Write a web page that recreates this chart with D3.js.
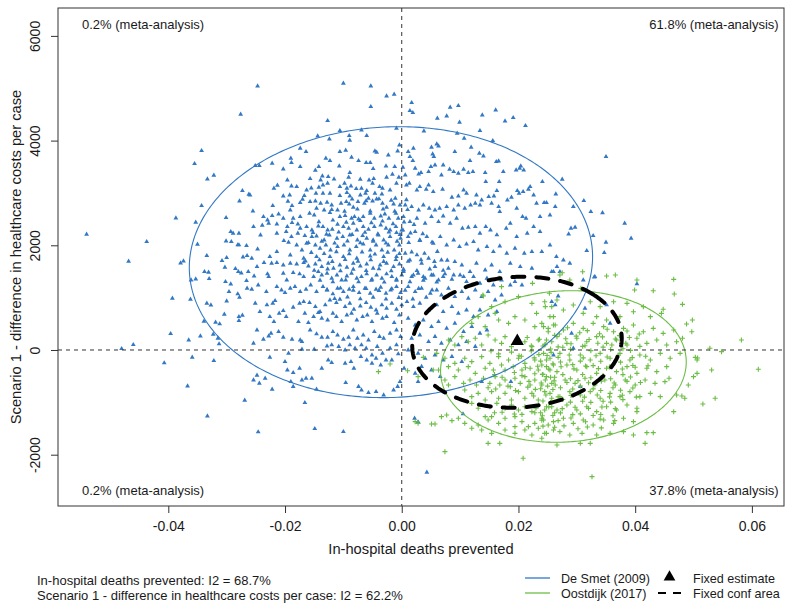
<!DOCTYPE html>
<html>
<head>
<meta charset="utf-8">
<script src="https://cdn.jsdelivr.net/npm/d3@7"></script>
<style>
body { margin: 0; background: #fff; }
text { font-family: "Liberation Sans", Arial, sans-serif; fill: #1a1a1a; }
</style>
</head>
<body>
<div id="chart-area"></div>
<script>
// simulated pairs [in-hospital deaths prevented, difference in costs per case]
var deSmet = [
[-0.0276,4501],[-0.0343,3807],[-0.0355,3559],[-0.0333,3266],[-0.0322,3336],[-0.0343,2757],[-0.0387,2521],[-0.0353,2438],
[-0.0540,2209],[-0.0437,2069],[-0.0468,1693],[-0.0350,2018],[-0.0379,1662],[-0.0374,1700],[-0.0361,1337],[-0.0353,1356],
[-0.0393,987],[-0.0362,968],[-0.0345,267],[-0.0365,191],[-0.0396,312],[-0.0480,25],[-0.0460,102],[-0.0407,-248],
[-0.0359,-140],[-0.0322,-204],[-0.0367,-688],[-0.0333,-1261],[-0.0269,-962],[-0.0315,223],[-0.0323,299],[-0.0313,115],
[-0.0339,547],[-0.0334,891],[-0.0327,859],[-0.0319,529],[-0.0312,497],[-0.0273,3043],[-0.0278,2846],[-0.0262,2973],
[-0.0301,2528],[-0.0301,2082],[-0.0293,2260],[-0.0289,2228],[-0.0279,2228],[-0.0292,2069],[-0.0281,2006],[-0.0279,2006],
[-0.0266,1993],[-0.0334,1802],[-0.0308,1706],[-0.0300,1763],[-0.0272,1776],[-0.0265,1802],[-0.0338,1496],[-0.0331,1483],
[-0.0330,1362],[-0.0303,1579],[-0.0285,1553],[-0.0280,1496],[-0.0275,1471],[-0.0263,1496],[-0.0302,1305],[-0.0293,1260],
[-0.0266,1324],[-0.0296,1114],[-0.0300,936],[-0.0278,1006],[-0.0281,1070],[-0.0265,1178],[-0.0304,681],[-0.0279,636],
[-0.0273,662],[-0.0279,560],
[-0.0247,5042],[-0.0100,5093],[-0.0053,5042],[-0.0026,4851],[-0.0013,4883],[-0.0053,4648],[-0.0127,4380],[-0.0106,4189],
[-0.0144,4087],[-0.0124,4030],[-0.0090,4094],[-0.0089,4005],[-0.0069,4202],[-0.0060,4094],[-0.0009,4234],[-0.0004,3915],
[-0.0007,3801],[-0.0046,3801],[-0.0043,3775],[-0.0023,3724],[-0.0174,3852],[-0.0164,3788],[-0.0106,3788],[-0.0096,3814],
[-0.0086,3680],[-0.0130,3661],[-0.0123,3616],[-0.0074,3616],[-0.0061,3578],[-0.0054,3578],[-0.0190,3661],[-0.0189,3578],
[-0.0222,3565],[-0.0251,3521],[-0.0244,3521],[-0.0203,3457],[-0.0174,3502],[-0.0148,3432],[-0.0142,3502],[-0.0107,3514],
[-0.0089,3387],[-0.0049,3463],[-0.0027,3514],[-0.0012,3502],[-0.0136,3323],[-0.0139,3247],[-0.0126,3311],[-0.0116,3266],
[-0.0091,3298],[-0.0071,3260],[-0.0056,3247],[-0.0048,3272],[-0.0026,3298],[-0.0016,3355],[-0.0005,3298],[-0.0196,3247],
[-0.0189,3132],[-0.0219,3088],[-0.0213,3145],[-0.0180,3120],[-0.0157,3272],[-0.0155,3094],[-0.0142,3107],[-0.0135,3151],
[-0.0127,3183],[-0.0106,3120],[-0.0098,3183],[-0.0094,3088],[-0.0087,3132],[-0.0078,3081],[-0.0069,3088],[-0.0060,3043],
[-0.0050,3183],[-0.0038,3120],[-0.0033,3088],[-0.0009,3183],[-0.0203,2941],[-0.0192,2960],[-0.0167,2948],[-0.0163,3056],
[-0.0147,2992],[-0.0135,2992],[-0.0123,2992],[-0.0106,2948],[-0.0094,3005],[-0.0089,2941],[-0.0071,2960],[-0.0062,2992],
[-0.0046,2992],[-0.0043,2884],[-0.0034,2980],[-0.0020,3056],[-0.0011,2897],[-0.0260,2960],[-0.0221,2757],[-0.0195,2839],
[-0.0188,2757],[-0.0174,2814],[-0.0170,2878],[-0.0157,2833],[-0.0148,2846],[-0.0139,2801],[-0.0128,2820],[-0.0120,2769],
[-0.0104,2801],[-0.0095,2833],[-0.0090,2789],[-0.0083,2725],[-0.0075,2833],[-0.0064,2801],[-0.0057,2897],[-0.0050,2846],
[-0.0033,2801],[-0.0026,2725],[-0.0014,2789],[-0.0003,2769],[-0.0255,2655],[-0.0237,2547],[-0.0230,2483],[-0.0222,2566],
[-0.0211,2598],[-0.0203,2515],[-0.0191,2674],[-0.0186,2515],[-0.0174,2547],[-0.0158,2610],[-0.0150,2578],[-0.0146,2706],
[-0.0133,2674],[-0.0123,2623],[-0.0110,2674],[-0.0106,2547],[-0.0097,2566],[-0.0086,2515],[-0.0081,2547],[-0.0074,2502],
[-0.0066,2547],[-0.0054,2610],[-0.0047,2515],[-0.0036,2559],[-0.0029,2598],[-0.0022,2515],[-0.0010,2610],[-0.0006,2515],
[-0.0254,2356],[-0.0239,2381],[-0.0228,2419],[-0.0214,2407],[-0.0196,2356],[-0.0188,2432],[-0.0178,2407],[-0.0174,2324],
[-0.0163,2356],[-0.0154,2292],[-0.0143,2368],[-0.0135,2356],[-0.0127,2292],[-0.0119,2305],[-0.0110,2400],[-0.0100,2356],
[-0.0091,2324],[-0.0083,2419],[-0.0077,2292],[-0.0066,2356],[-0.0057,2305],[-0.0047,2356],[-0.0036,2387],[-0.0027,2324],
[-0.0020,2292],[-0.0010,2356],[0.0000,2292],[-0.0242,2196],[-0.0214,2228],[-0.0198,2260],[-0.0189,2165],[-0.0178,2228],
[-0.0166,2184],[-0.0154,2165],[-0.0146,2177],[-0.0133,2101],[-0.0124,2196],[-0.0111,2133],[-0.0101,2165],[-0.0089,2196],
[-0.0076,2101],[-0.0067,2184],[-0.0060,2133],[-0.0049,2101],[-0.0040,2196],[-0.0031,2101],[-0.0020,2165],[-0.0009,2241],
[-0.0002,2133],[-0.0247,1929],[-0.0214,1878],[-0.0202,2088],[-0.0194,2056],[-0.0180,2005],[-0.0171,1910],[-0.0163,2037],
[-0.0148,2005],[-0.0140,1942],[-0.0130,2005],[-0.0122,1910],[-0.0110,1974],[-0.0099,2005],[-0.0089,1910],[-0.0078,1974],
[-0.0066,2024],[-0.0054,1910],[-0.0044,2005],[-0.0034,1910],[-0.0023,2005],[-0.0013,1910],[-0.0004,2005],[-0.0257,1751],
[-0.0226,1782],[-0.0191,1814],[-0.0168,1751],[-0.0146,1782],[-0.0123,1782],[-0.0100,1782],[-0.0077,1751],[-0.0054,1795],
[-0.0031,1782],[-0.0009,1782],
[-0.0248,1592],[-0.0236,1668],[-0.0223,1655],[-0.0214,1668],[-0.0203,1623],[-0.0191,1655],[-0.0180,1643],[-0.0168,1668],
[-0.0160,1604],[-0.0148,1643],[-0.0137,1592],[-0.0126,1655],[-0.0117,1560],[-0.0106,1623],[-0.0094,1579],[-0.0083,1655],
[-0.0071,1604],[-0.0060,1643],[-0.0049,1560],[-0.0037,1623],[-0.0026,1655],[-0.0014,1592],[-0.0004,1643],[-0.0253,1413],
[-0.0230,1452],[-0.0228,1401],[-0.0203,1464],[-0.0197,1337],[-0.0186,1477],[-0.0175,1452],[-0.0168,1401],[-0.0151,1401],
[-0.0143,1496],[-0.0137,1432],[-0.0128,1464],[-0.0120,1369],[-0.0111,1432],[-0.0103,1337],[-0.0094,1413],[-0.0086,1464],
[-0.0077,1369],[-0.0069,1401],[-0.0060,1452],[-0.0051,1350],[-0.0043,1432],[-0.0034,1369],[-0.0026,1452],[-0.0017,1401],
[-0.0009,1350],[0.0000,1432],[-0.0257,1159],[-0.0246,1241],[-0.0232,1114],[-0.0214,1210],[-0.0206,1146],[-0.0200,1095],
[-0.0191,1178],[-0.0183,1210],[-0.0174,1114],[-0.0164,1159],[-0.0156,1241],[-0.0146,1114],[-0.0135,1210],[-0.0128,1146],
[-0.0118,1070],[-0.0110,1178],[-0.0100,1114],[-0.0090,1159],[-0.0083,1210],[-0.0073,1095],[-0.0063,1178],[-0.0054,1082],
[-0.0044,1159],[-0.0036,1197],[-0.0027,1082],[-0.0019,1146],[-0.0009,1210],[-0.0002,1095],[-0.0251,891],[-0.0231,860],
[-0.0221,891],[-0.0217,942],[-0.0203,751],[-0.0186,815],[-0.0175,891],[-0.0168,923],[-0.0158,904],[-0.0148,828],
[-0.0140,732],[-0.0131,860],[-0.0123,955],[-0.0112,904],[-0.0106,968],[-0.0097,828],[-0.0089,891],[-0.0082,777],
[-0.0071,840],[-0.0061,904],[-0.0053,815],[-0.0044,764],[-0.0034,860],[-0.0026,796],[-0.0017,891],[-0.0009,777],
[0.0000,860],[-0.0243,732],[-0.0226,637],[-0.0219,541],[-0.0210,700],[-0.0198,637],[-0.0177,541],[-0.0166,700],
[-0.0160,522],[-0.0151,637],[-0.0143,713],[-0.0137,605],[-0.0127,573],[-0.0118,700],[-0.0112,637],[-0.0103,541],
[-0.0094,668],[-0.0086,700],[-0.0077,573],[-0.0067,637],[-0.0059,668],[-0.0051,541],[-0.0042,700],[-0.0033,605],
[-0.0026,637],[-0.0013,522],[-0.0004,668],[-0.0248,382],[-0.0237,204],[-0.0228,267],[-0.0224,318],[-0.0211,350],
[-0.0203,242],[-0.0188,204],[-0.0174,191],[-0.0171,159],[-0.0157,382],[-0.0146,306],[-0.0137,242],[-0.0127,242],
[-0.0118,350],[-0.0110,286],[-0.0100,204],[-0.0091,242],[-0.0083,382],[-0.0076,223],[-0.0066,286],[-0.0057,191],
[-0.0047,350],[-0.0038,255],[-0.0031,223],[-0.0020,318],[-0.0009,382],[-0.0002,255],[-0.0254,127],[-0.0226,-140],
[-0.0194,-64],[-0.0171,13],[-0.0150,13],[-0.0128,76],[-0.0120,96],[-0.0108,64],[-0.0097,0],[-0.0089,96],
[-0.0080,32],[-0.0069,96],[-0.0061,32],[-0.0051,-96],[-0.0042,64],[-0.0033,-64],[-0.0020,32],[-0.0009,96],
[-0.0248,-484],[-0.0234,-541],[-0.0200,-223],[-0.0196,-382],[-0.0186,-433],[-0.0175,-350],[-0.0164,-541],[-0.0154,-541],
[-0.0137,-350],[-0.0126,-191],[-0.0120,-242],[-0.0097,-255],[-0.0087,-223],[-0.0082,-350],[-0.0070,-127],[-0.0060,-191],
[-0.0051,-255],[-0.0044,-159],[-0.0036,-287],[-0.0027,-191],[-0.0017,-191],[-0.0006,-76],[-0.0254,-573],[-0.0244,-637],
[-0.0222,-751],[-0.0190,-605],[-0.0186,-700],[-0.0171,-573],[-0.0146,-751],[-0.0096,-624],[-0.0074,-700],[-0.0069,-764],
[-0.0057,-815],[-0.0044,-796],[-0.0031,-860],[-0.0014,-764],[-0.0007,-700],[-0.0003,-605],[0.0004,-350],
[-0.0246,-1566],[-0.0149,-1503],[-0.0100,-1560],[-0.0166,-1006],
[0.0017,4724],[0.0014,4571],[0.0019,4533],[0.0083,4635],[0.0097,4667],[0.0061,4425],[0.0077,4469],[0.0099,4348],
[0.0138,4488],[0.0161,4584],[0.0177,4374],[0.0191,4438],[0.0212,4285],[0.0038,4183],[0.0095,4138],[0.0107,4043],
[0.0134,4189],[0.0156,3998],[0.0011,3788],[0.0020,3852],[0.0051,3871],[0.0060,3935],[0.0063,3896],[0.0014,3693],
[0.0019,3616],[0.0053,3744],[0.0055,3693],[0.0071,3534],[0.0091,3788],[0.0117,3616],[0.0119,3871],[0.0133,3756],
[0.0140,3705],[0.0162,3597],[0.0166,3610],[0.0002,3489],[0.0006,3343],[0.0023,3470],[0.0029,3362],[0.0033,3387],
[0.0046,3406],[0.0050,3502],[0.0057,3534],[0.0068,3343],[0.0082,3451],[0.0089,3406],[0.0097,3374],[0.0106,3451],
[0.0114,3387],[0.0122,3406],[0.0143,3387],[0.0144,3215],[0.0167,3215],[0.0174,3406],[0.0196,3438],[0.0202,3470],
[0.0209,3438],[0.0204,3515],[0.0241,3215],[0.0275,3260],[0.0008,3152],[0.0013,3183],[0.0026,3056],[0.0031,3120],
[0.0042,3069],[0.0046,3152],[0.0054,3024],[0.0070,3069],[0.0086,2916],[0.0097,2941],[0.0106,3056],[0.0111,2992],
[0.0128,2960],[0.0137,2865],[0.0149,2929],[0.0158,2941],[0.0163,3043],[0.0181,2865],[0.0188,2916],[0.0198,3043],
[0.0201,2992],[0.0208,3024],[0.0217,3069],[0.0220,3120],[0.0226,2960],[0.0231,2801],[0.0244,2814],[0.0248,2814],
[0.0264,2979],[0.0263,2738],[0.0294,2738],[0.0254,2578],[0.0237,2547],[0.0207,2547],[0.0213,2515],[0.0186,2420],
[0.0197,2706],[0.0168,2642],[0.0166,2738],[0.0154,2801],[0.0134,2769],[0.0126,2801],[0.0118,2769],[0.0108,2706],
[0.0097,2769],[0.0089,2674],[0.0077,2738],[0.0065,2706],[0.0057,2674],[0.0047,2706],[0.0037,2769],[0.0029,2674],
[0.0017,2738],[0.0006,2769],[0.0003,2547],[0.0014,2451],[0.0026,2515],[0.0040,2419],[0.0051,2547],[0.0063,2451],
[0.0071,2559],[0.0083,2419],[0.0094,2515],[0.0104,2324],[0.0114,2343],[0.0126,2356],[0.0134,2228],[0.0144,2356],
[0.0152,2292],[0.0163,2197],[0.0179,2324],[0.0197,2165],[0.0215,2228],[0.0226,2356],[0.0237,2260],[0.0286,2216],
[0.0290,2324],[0.0297,2343],[0.0328,2184],[0.0317,1897],[0.0002,2292],[0.0011,2165],[0.0023,2260],[0.0031,2101],
[0.0043,2165],[0.0054,2037],[0.0066,2165],[0.0077,2005],[0.0089,2101],[0.0099,1974],[0.0111,2024],[0.0123,2069],
[0.0131,1910],[0.0146,1974],[0.0157,1878],[0.0168,1986],[0.0180,1846],[0.0194,1942],[0.0210,1846],[0.0223,1878],
[0.0240,1878],[0.0254,2005],[0.0265,1783],[0.0277,1719],[0.0288,1655],[0.0006,1846],[0.0014,1719],[0.0026,1815],
[0.0034,1655],[0.0046,1751],[0.0057,1592],[0.0068,1719],[0.0080,1560],[0.0091,1687],[0.0103,1623],[0.0117,1496],
[0.0128,1655],[0.0143,1528],[0.0154,1623],[0.0168,1496],[0.0186,1655],[0.0203,1592],[0.0223,1560],[0.0257,1496],
[0.0266,1592],[0.0003,1528],[0.0020,1432],[0.0037,1401],[0.0054,1432],[0.0071,1401],[0.0089,1432],[0.0106,1401],
[0.0350,3692],[0.0382,2420],[0.0393,2133],[0.0344,2622],[0.0350,2057],[0.0347,1858],[0.0330,1394],[0.0312,2852],[0.0324,2642],
[0.0003,1496],[0.0017,1401],[0.0028,1464],[0.0040,1369],[0.0051,1432],[0.0063,1337],[0.0074,1452],[0.0086,1350],
[0.0100,1432],[0.0111,1305],[0.0123,1401],[0.0134,1273],[0.0146,1369],[0.0157,1241],[0.0171,1337],[0.0186,1241],
[0.0194,1305],[0.0206,1241],[0.0011,1210],[0.0023,1114],[0.0034,1178],[0.0049,1082],[0.0060,1146],[0.0068,1050],
[0.0080,1178],[0.0091,1019],[0.0103,1114],[0.0114,987],[0.0126,1146],[0.0137,1019],[0.0148,1114],[0.0160,955],
[0.0171,1050],[0.0009,923],[0.0020,828],[0.0031,891],[0.0046,764],[0.0060,860],[0.0071,732],[0.0086,828],
[0.0097,700],[0.0111,764],[0.0123,637],[0.0134,764],[0.0148,668],[0.0163,732],[0.0011,605],[0.0023,477],
[0.0037,573],[0.0051,446],[0.0063,541],[0.0077,414],[0.0091,509],[0.0106,350],[0.0120,446],[0.0134,318],
[0.0146,382],[0.0017,223],[0.0031,286],[0.0046,159],[0.0057,255],[0.0068,127],[0.0083,191],[0.0097,96],
[0.0111,159],[0.0126,64],[0.0011,0],[0.0028,-64],[0.0040,-159],[0.0057,-96],[0.0071,-191],[0.0086,-127],
[0.0103,-223],[0.0034,-318],[0.0023,-446],[0.0051,-382],[0.0066,-509],[0.0028,-605],[0.0137,-605],[0.0187,-605],
[0.0022,-1305],[0.0028,-1375],[0.0043,-2337],[0.0105,-1222],
[0.0260,1496],[0.0271,1496],[0.0311,1337],[0.0331,1401],[0.0403,1261],[0.0268,1031],[0.0257,923],[0.0263,860],
[0.0314,796],[0.0351,860],[0.0357,509],[0.0291,318],[0.0294,32],[0.0260,-96],[0.0306,-700],
[-0.0142,2450],[-0.0118,2480],[-0.0095,2440],[-0.0071,2470],[-0.0052,2430],[-0.0033,2460],[-0.0015,2410],[0.0004,2445],[0.0021,2395],
[-0.0152,2240],[-0.0129,2210],[-0.0108,2250],[-0.0085,2205],[-0.0063,2245],[-0.0041,2215],[-0.0022,2250],[-0.0003,2205],[0.0015,2235],[0.0036,2220],
[-0.0160,2050],[-0.0137,2075],[-0.0115,2040],[-0.0093,2080],[-0.0071,2045],[-0.0049,2075],[-0.0027,2040],[-0.0008,2075],[0.0012,2050],[0.0031,2090],[0.0052,2060],
[-0.0155,1860],[-0.0133,1840],[-0.0112,1875],[-0.0090,1835],[-0.0068,1870],[-0.0046,1830],[-0.0024,1865],[-0.0004,1840],[0.0017,1870],[0.0039,1845],[0.0061,1880],
[-0.0165,1700],[-0.0141,1720],[-0.0119,1690],[-0.0097,1725],[-0.0075,1695],[-0.0053,1720],[-0.0031,1690],[-0.0010,1725],[0.0011,1695],[0.0033,1722],[0.0056,1690],[0.0078,1712],
[-0.0150,1520],[-0.0127,1545],[-0.0105,1510],[-0.0083,1540],[-0.0061,1515],[-0.0039,1548],[-0.0018,1512],[0.0003,1540],[0.0026,1515],[0.0048,1545],[0.0071,1520],
[-0.0140,1330],[-0.0118,1300],[-0.0096,1335],[-0.0074,1300],[-0.0052,1330],[-0.0030,1295],[-0.0009,1328],[0.0014,1302],[0.0037,1330],[0.0060,1298],
[-0.0128,1150],[-0.0105,1180],[-0.0083,1140],[-0.0061,1175],[-0.0039,1135],[-0.0017,1170],[0.0006,1140],[0.0029,1175],[0.0052,1145],
[-0.0115,980],[-0.0093,1010],[-0.0071,975],[-0.0049,1005],[-0.0027,970],[-0.0005,1000],[0.0019,972],[0.0042,1005],
[-0.0120,2680],[-0.0098,2650],[-0.0076,2690],[-0.0054,2655],[-0.0032,2690],[-0.0012,2650],[0.0010,2680],
[-0.0085,2880],[-0.0061,2850],[-0.0039,2885],[-0.0018,2860],[0.0008,2870]
];

var oostdijk = [
[0.0399,1146],[0.0167,1369],[0.0224,1273],[0.0253,1083],[0.0307,1178],[0.0139,1051],[0.0275,1477],
[-0.0040,-414],[-0.0020,-267],[0.0010,-395],[0.0037,-140],[0.0060,-64],[0.0054,-382],[0.0028,-509],[0.0507,-153],
[0.0140,1031],[0.0171,1210],[0.0177,923],[0.0200,1019],[0.0223,891],[0.0231,700],[0.0245,923],[0.0257,828],
[0.0260,637],[0.0154,828],[0.0160,700],[0.0131,637],[0.0120,509],[0.0143,446],[0.0166,573],[0.0183,509],
[0.0194,637],[0.0211,573],[0.0228,446],[0.0240,509],[0.0251,414],[0.0263,477],[0.0080,191],[0.0091,96],
[0.0103,255],[0.0114,159],[0.0126,223],[0.0137,96],[0.0148,286],[0.0160,191],[0.0171,127],[0.0177,255],
[0.0188,64],[0.0211,159],[0.0223,64],[0.0234,191],[0.0245,96],[0.0257,159],[0.0074,-159],[0.0080,-318],
[0.0063,-382],[0.0091,-255],[0.0097,-382],[0.0108,-159],[0.0114,-318],[0.0120,-223],[0.0126,-446],[0.0137,-127],
[0.0143,-350],[0.0151,-255],[0.0157,-382],[0.0166,-127],[0.0171,-287],[0.0177,-382],[0.0183,-191],[0.0191,-318],
[0.0200,-159],[0.0206,-382],[0.0211,-255],[0.0220,-350],[0.0228,-191],[0.0234,-382],[0.0240,-287],[0.0248,-191],
[0.0254,-382],[0.0260,-287],[0.0074,-573],[0.0080,-669],[0.0091,-509],[0.0106,-637],[0.0117,-573],[0.0128,-669],
[0.0140,-541],[0.0151,-637],[0.0160,-509],[0.0168,-669],[0.0177,-573],[0.0186,-701],[0.0194,-541],[0.0203,-637],
[0.0211,-509],[0.0220,-669],[0.0228,-573],[0.0240,-669],[0.0248,-509],[0.0257,-637],[0.0108,-764],[0.0120,-891],
[0.0131,-828],[0.0143,-955],[0.0154,-796],[0.0166,-923],[0.0177,-828],[0.0188,-955],[0.0200,-796],[0.0211,-923],
[0.0223,-828],[0.0234,-955],[0.0245,-796],[0.0257,-923],[0.0023,-1369],[0.0028,-1401],[0.0051,-1414],[0.0057,-1414],
[0.0068,-1273],[0.0077,-1242],[0.0086,-1350],[0.0097,-1305],[0.0108,-1401],[0.0120,-1496],[0.0131,-1433],[0.0143,-1273],
[0.0148,-1337],[0.0154,-1273],[0.0166,-1401],[0.0177,-1305],[0.0194,-1273],[0.0206,-1369],[0.0217,-1464],[0.0228,-1401],
[0.0240,-1305],[0.0251,-1433],[0.0260,-1528],[0.0120,-1019],[0.0131,-1114],[0.0151,-1083],[0.0163,-1019],[0.0177,-1114],
[0.0188,-1051],[0.0200,-1146],[0.0211,-1083],[0.0223,-1178],[0.0234,-1051],[0.0245,-1146],[0.0257,-1083],[0.0074,-1942],
[0.0148,-1783],[0.0168,-1783],[0.0208,-2069],[0.0240,-1687],[0.0223,-1624],[0.0194,-1592],[0.0177,-1528],[0.0154,-1592],
[0.0137,-1528],
[0.0153,-20],[0.0166,-75],[0.0188,-40],[0.0201,-110],[0.0222,-18],[0.0235,-88],[0.0256,-45],
[0.0159,-470],[0.0172,-520],[0.0193,-430],[0.0206,-490],[0.0228,-455],[0.0241,-466],[0.0262,-520],
[0.0148,-720],[0.0161,-745],[0.0182,-690],[0.0195,-775],[0.0216,-710],[0.0229,-752],[0.0250,-690],
[0.0159,-1198],[0.0172,-1190],[0.0193,-1222],[0.0206,-1230],[0.0228,-1199],[0.0241,-1255],[0.0262,-1200],
[0.0194,-1464],[0.0211,-1528],[0.0234,-1496],[0.0245,-1592],
[0.0366,1432],[0.0351,1413],[0.0310,1496],[0.0403,1337],[0.0431,1133],[0.0466,1350],[0.0467,1070],[0.0481,872],
[0.0448,777],[0.0445,700],[0.0488,497],[0.0498,573],[0.0497,350],[0.0481,223],[0.0582,191],[0.0528,32],
[0.0548,-32],[0.0611,-369],[0.0531,-382],[0.0503,-140],[0.0506,-191],[0.0500,-509],[0.0506,-446],[0.0458,-541],
[0.0491,-669],[0.0480,-879],[0.0485,-923],[0.0537,-923],[0.0516,-1031],[0.0471,-860],[0.0466,-1178],[0.0420,-1579],
[0.0431,-1579],[0.0417,-1783],[0.0403,-1114],[0.0326,-2419],[0.0266,-1815],[0.0306,-1783],[0.0323,-1783],
[0.0271,1432],[0.0288,1337],[0.0266,955],[0.0277,764],[0.0294,860],[0.0323,923],[0.0340,828],[0.0363,923],
[0.0386,891],[0.0397,732],[0.0414,828],[0.0426,637],[0.0374,637],[0.0351,573],[0.0334,637],[0.0311,700],
[0.0246,828],[0.0254,637],
[0.0243,446],[0.0260,477],[0.0277,382],[0.0294,509],[0.0311,414],[0.0328,509],[0.0346,446],[0.0363,350],
[0.0380,414],[0.0397,477],[0.0414,350],[0.0431,414],[0.0448,318],[0.0466,382],
[0.0248,191],[0.0266,255],[0.0283,127],[0.0300,223],[0.0317,159],[0.0334,255],[0.0351,127],[0.0368,191],
[0.0386,96],[0.0403,223],[0.0420,127],[0.0437,191],[0.0454,96],[0.0471,159],
[0.0243,-64],[0.0254,-159],[0.0271,-64],[0.0288,-191],[0.0306,-96],[0.0323,-191],[0.0340,-64],[0.0357,-159],
[0.0374,-64],[0.0391,-191],[0.0408,-96],[0.0426,-191],[0.0443,-64],[0.0460,-159],[0.0477,-64],
[0.0248,-318],[0.0266,-414],[0.0283,-287],[0.0300,-382],[0.0317,-318],[0.0334,-446],[0.0351,-350],[0.0368,-414],
[0.0386,-318],[0.0403,-446],[0.0420,-350],[0.0437,-414],[0.0454,-318],
[0.0246,-573],[0.0263,-669],[0.0280,-573],[0.0297,-637],[0.0314,-541],[0.0331,-669],[0.0348,-573],[0.0366,-669],
[0.0383,-573],[0.0400,-669],[0.0417,-573],[0.0434,-637],[0.0451,-605],
[0.0254,-828],[0.0271,-891],[0.0288,-796],[0.0306,-860],[0.0323,-796],[0.0340,-923],[0.0357,-828],[0.0374,-891],
[0.0391,-796],[0.0408,-891],[0.0426,-828],[0.0443,-891],
[0.0248,-1083],[0.0266,-1146],[0.0283,-1051],[0.0300,-1146],[0.0317,-1083],[0.0334,-1178],[0.0351,-1083],[0.0368,-1146],
[0.0386,-1051],[0.0403,-1178],
[0.0243,-1337],[0.0260,-1369],[0.0277,-1305],[0.0294,-1401],[0.0311,-1337],[0.0328,-1433],[0.0346,-1337],[0.0363,-1401],
[0.0380,-1305],[0.0397,-1369],
[0.0248,-1592],[0.0271,-1560],[0.0288,-1624],[0.0309,-1592],[0.0334,-1624],[0.0357,-1592],[0.0380,-1560],[0.0397,-1624],
[0.0251,350],[0.0270,305],[0.0284,425],[0.0305,330],[0.0318,370],[0.0339,310],[0.0352,395],[0.0373,275],[0.0386,362],[0.0407,305],
[0.0242,75],[0.0255,20],[0.0276,52],[0.0289,12],[0.0310,70],[0.0324,-12],[0.0345,55],[0.0358,10],[0.0379,25],[0.0392,-8],
[0.0238,-212],[0.0259,-265],[0.0272,-230],[0.0293,-280],[0.0306,-212],[0.0328,-298],[0.0341,-215],[0.0362,-279],[0.0375,-232],[0.0396,-295],
[0.0242,-466],[0.0255,-520],[0.0276,-470],[0.0289,-550],[0.0310,-468],[0.0324,-530],[0.0345,-488],[0.0358,-548],[0.0379,-470],[0.0392,-515],
[0.0238,-740],[0.0259,-755],[0.0272,-722],[0.0293,-744],[0.0306,-690],[0.0328,-742],[0.0341,-775],[0.0362,-722],[0.0375,-770],[0.0396,-725],
[0.0242,-975],[0.0255,-998],[0.0276,-945],[0.0289,-995],[0.0310,-980],[0.0324,-1000],[0.0345,-978],[0.0358,-995],[0.0379,-948],
[0.0238,-1200],[0.0259,-1250],[0.0272,-1202],[0.0293,-1235],[0.0306,-1220],[0.0328,-1250],[0.0341,-1232],[0.0362,-1255],
[0.0242,-1455],[0.0262,-1475],[0.0278,-1450],[0.0302,-1505],[0.0318,-1470],[0.0342,-1488],
[0.0215,240],[0.0236,205],[0.0262,280],[0.0281,215],[0.0299,265],[0.0321,200],[0.0344,250],[0.0366,210],[0.0390,240],
[0.0205,-120],[0.0227,-150],[0.0249,-105],[0.0268,-140],[0.0287,-95],[0.0311,-150],[0.0333,-110],[0.0352,-135],[0.0371,-100],[0.0395,-145],[0.0418,-120],
[0.0212,-340],[0.0233,-310],[0.0252,-365],[0.0273,-320],[0.0295,-360],[0.0315,-305],[0.0337,-355],[0.0356,-325],[0.0378,-362],[0.0400,-330],[0.0422,-300],
[0.0218,-600],[0.0239,-630],[0.0261,-590],[0.0283,-620],[0.0302,-585],[0.0320,-625],[0.0342,-598],[0.0364,-630],[0.0386,-600],[0.0409,-620],
[0.0226,-880],[0.0247,-860],[0.0268,-895],[0.0290,-870],[0.0313,-900],[0.0335,-860],[0.0356,-895],[0.0378,-865],[0.0402,-900],
[0.0230,-1110],[0.0252,-1090],[0.0275,-1120],[0.0297,-1095],[0.0320,-1115],[0.0343,-1090],[0.0366,-1120],
[0.0222,80],[0.0246,110],[0.0268,60],[0.0290,120],[0.0314,80],[0.0336,130],[0.0360,95],[0.0384,130],[0.0408,70],
[0.0240,-1340],[0.0268,-1350],[0.0290,-1300],[0.0315,-1370],[0.0340,-1320],[0.0365,-1350]
];

var fixedEstimate = [0.0198, 170];

// confidence ellipses: centre x, centre y, half width, half height, correlation
var deSmetEllipse = [-0.00185, 1678, 0.03455, 2588, 0.04];
var oostdijkEllipse = [0.0277, -315, 0.02105, 1448, 0.06];
var fixedEllipse = [0.01975, 149, 0.01795, 1251, 0.06];

var xTicks = [-0.04, -0.02, 0, 0.02, 0.04, 0.06];
var yTicks = [-2000, 0, 2000, 4000, 6000];
var cornerLabels = ["0.2% (meta-analysis)", "61.8% (meta-analysis)", "0.2% (meta-analysis)", "37.8% (meta-analysis)"];
var heterogeneity = ["In-hospital deaths prevented: I2 = 68.7%",
    "Scenario 1 - difference in healthcare costs per case: I2 = 62.2%"];
var studies = ["De Smet (2009)", "Oostdijk (2017)"];
var fixedLabels = ["Fixed estimate", "Fixed conf area"];

var blue = "#3278c4", green = "#6cbd45";

var margin = { left: 58, right: 2, top: 8, bottom: 99 };
var width = 786 - margin.left - margin.right,
    height = 605 - margin.top - margin.bottom;

var svg = d3.select("#chart-area")
    .append("svg")
        .attr("width", 786)
        .attr("height", 605);

var g = svg.append("g")
    .attr("transform", "translate(" + margin.left + "," + margin.top + ")");

var x = d3.scaleLinear()
    .domain([-0.0589, 0.0655])
    .range([0, width]);

var y = d3.scaleLinear()
    .domain([-2980, 6533])
    .range([height, 0]);

g.append("clipPath")
    .attr("id", "plot-clip")
    .append("rect")
        .attr("width", width)
        .attr("height", height);

var plot = g.append("g").attr("clip-path", "url(#plot-clip)");

// De Smet points (small filled triangles)
var tri = d3.symbol().type(d3.symbolTriangle).size(10);
plot.append("g").selectAll("path")
    .data(deSmet)
    .enter()
    .append("path")
        .attr("d", tri)
        .attr("transform", (d) => "translate(" + x(d[0]) + "," + y(d[1]) + ")")
        .attr("fill", blue);

// Oostdijk points (plus signs)
plot.append("g").selectAll("path")
    .data(oostdijk)
    .enter()
    .append("path")
        .attr("d", "M-2.5,0H2.5M0,-2.5V2.5")
        .attr("transform", (d) => "translate(" + x(d[0]) + "," + y(d[1]) + ")")
        .attr("stroke", green)
        .attr("stroke-width", 1.1)
        .attr("fill", "none");

function ellipsePath(e) {
    var d = Math.acos(e[4]);
    var pts = d3.range(0, 361).map((a) => {
        var t = a * Math.PI / 180;
        return [e[0] + e[2] * Math.cos(t + d / 2), e[1] + e[3] * Math.cos(t - d / 2)];
    });
    return d3.line().x((p) => x(p[0])).y((p) => y(p[1]))(pts);
}

plot.append("path")
    .attr("d", ellipsePath(deSmetEllipse))
    .attr("fill", "none")
    .attr("stroke", blue)
    .attr("stroke-width", 1.1);

plot.append("path")
    .attr("d", ellipsePath(oostdijkEllipse))
    .attr("fill", "none")
    .attr("stroke", green)
    .attr("stroke-width", 1.1);

// zero reference lines
plot.append("line")
    .attr("x1", x(0)).attr("x2", x(0))
    .attr("y1", 0).attr("y2", height)
    .attr("stroke", "#333")
    .attr("stroke-dasharray", "4,4");

plot.append("line")
    .attr("x1", 0).attr("x2", width)
    .attr("y1", y(0)).attr("y2", y(0))
    .attr("stroke", "#333")
    .attr("stroke-dasharray", "4,4");

plot.append("path")
    .attr("d", ellipsePath(fixedEllipse))
    .attr("fill", "none")
    .attr("stroke", "#000")
    .attr("stroke-width", 4)
    .attr("stroke-linecap", "round")
    .attr("stroke-dasharray", "12,12");

plot.append("path")
    .attr("d", d3.symbol().type(d3.symbolTriangle).size(75))
    .attr("transform", "translate(" + x(fixedEstimate[0]) + "," + y(fixedEstimate[1]) + ")")
    .attr("fill", "#000");

// box
g.append("rect")
    .attr("width", width)
    .attr("height", height)
    .attr("fill", "none")
    .attr("stroke", "#333")
    .attr("stroke-width", 1);

// axes
var xAxisCall = d3.axisBottom(x)
    .tickValues(xTicks)
    .tickSize(7)
    .tickFormat((d) => d.toFixed(2));

var xAxis = g.append("g")
    .attr("class", "x axis")
    .attr("transform", "translate(0," + height + ")")
    .call(xAxisCall);
xAxis.select(".domain").remove();
xAxis.selectAll("line").attr("stroke", "#333");
xAxis.selectAll("text")
    .attr("y", 24.5)
    .attr("dy", 0)
    .attr("font-size", "14px")
    .attr("fill", "#1a1a1a");

var yAxisCall = d3.axisLeft(y)
    .tickValues(yTicks)
    .tickSize(7)
    .tickFormat((d) => String(d));

var yAxis = g.append("g")
    .attr("class", "y axis")
    .call(yAxisCall);
yAxis.select(".domain").remove();
yAxis.selectAll("line").attr("stroke", "#333");
yAxis.selectAll("text")
    .attr("x", 0)
    .attr("y", -18.5)
    .attr("dy", 0)
    .attr("text-anchor", "middle")
    .attr("transform", "rotate(-90)")
    .attr("font-size", "14px")
    .attr("fill", "#1a1a1a");

// axis titles
svg.append("text")
    .attr("x", margin.left + width / 2)
    .attr("y", 554)
    .attr("font-size", "14.7px")
    .attr("text-anchor", "middle")
    .text("In-hospital deaths prevented");

svg.append("text")
    .attr("transform", "translate(20.5," + (margin.top + height / 2) + ") rotate(-90)")
    .attr("font-size", "14.7px")
    .attr("text-anchor", "middle")
    .text("Scenario 1 - difference in healthcare costs per case");

// quadrant labels
var cornerPos = [[82, 28.5, "start"], [778.7, 28.5, "end"], [82, 495, "start"], [778.7, 495, "end"]];
svg.selectAll(".corner")
    .data(cornerLabels)
    .enter()
    .append("text")
        .attr("class", "corner")
        .attr("x", (d, i) => cornerPos[i][0])
        .attr("y", (d, i) => cornerPos[i][1])
        .attr("text-anchor", (d, i) => cornerPos[i][2])
        .attr("font-size", "13px")
        .text((d) => d);

// heterogeneity notes
svg.selectAll(".het")
    .data(heterogeneity)
    .enter()
    .append("text")
        .attr("class", "het")
        .attr("x", 37)
        .attr("y", (d, i) => 584.5 + i * 15.5)
        .attr("font-size", "13px")
        .text((d) => d);

// legend
var legend = svg.append("g");
[blue, green].forEach((c, i) => {
    legend.append("line")
        .attr("x1", 525).attr("x2", 550)
        .attr("y1", 578 + i * 15).attr("y2", 578 + i * 15)
        .attr("stroke", c)
        .attr("stroke-width", 1.3);
});
legend.selectAll(".study")
    .data(studies)
    .enter()
    .append("text")
        .attr("class", "study")
        .attr("x", 561)
        .attr("y", (d, i) => 582.5 + i * 15)
        .attr("font-size", "12.6px")
        .text((d) => d);
legend.append("path")
    .attr("d", d3.symbol().type(d3.symbolTriangle).size(60))
    .attr("transform", "translate(669.5,577)")
    .attr("fill", "#000");
legend.append("line")
    .attr("x1", 658).attr("x2", 681)
    .attr("y1", 593).attr("y2", 593)
    .attr("stroke", "#000")
    .attr("stroke-width", 2)
    .attr("stroke-dasharray", "8,7");
legend.selectAll(".fixed")
    .data(fixedLabels)
    .enter()
    .append("text")
        .attr("class", "fixed")
        .attr("x", 693)
        .attr("y", (d, i) => 582.5 + i * 15)
        .attr("font-size", "12.6px")
        .text((d) => d);
</script>
</body>
</html>
